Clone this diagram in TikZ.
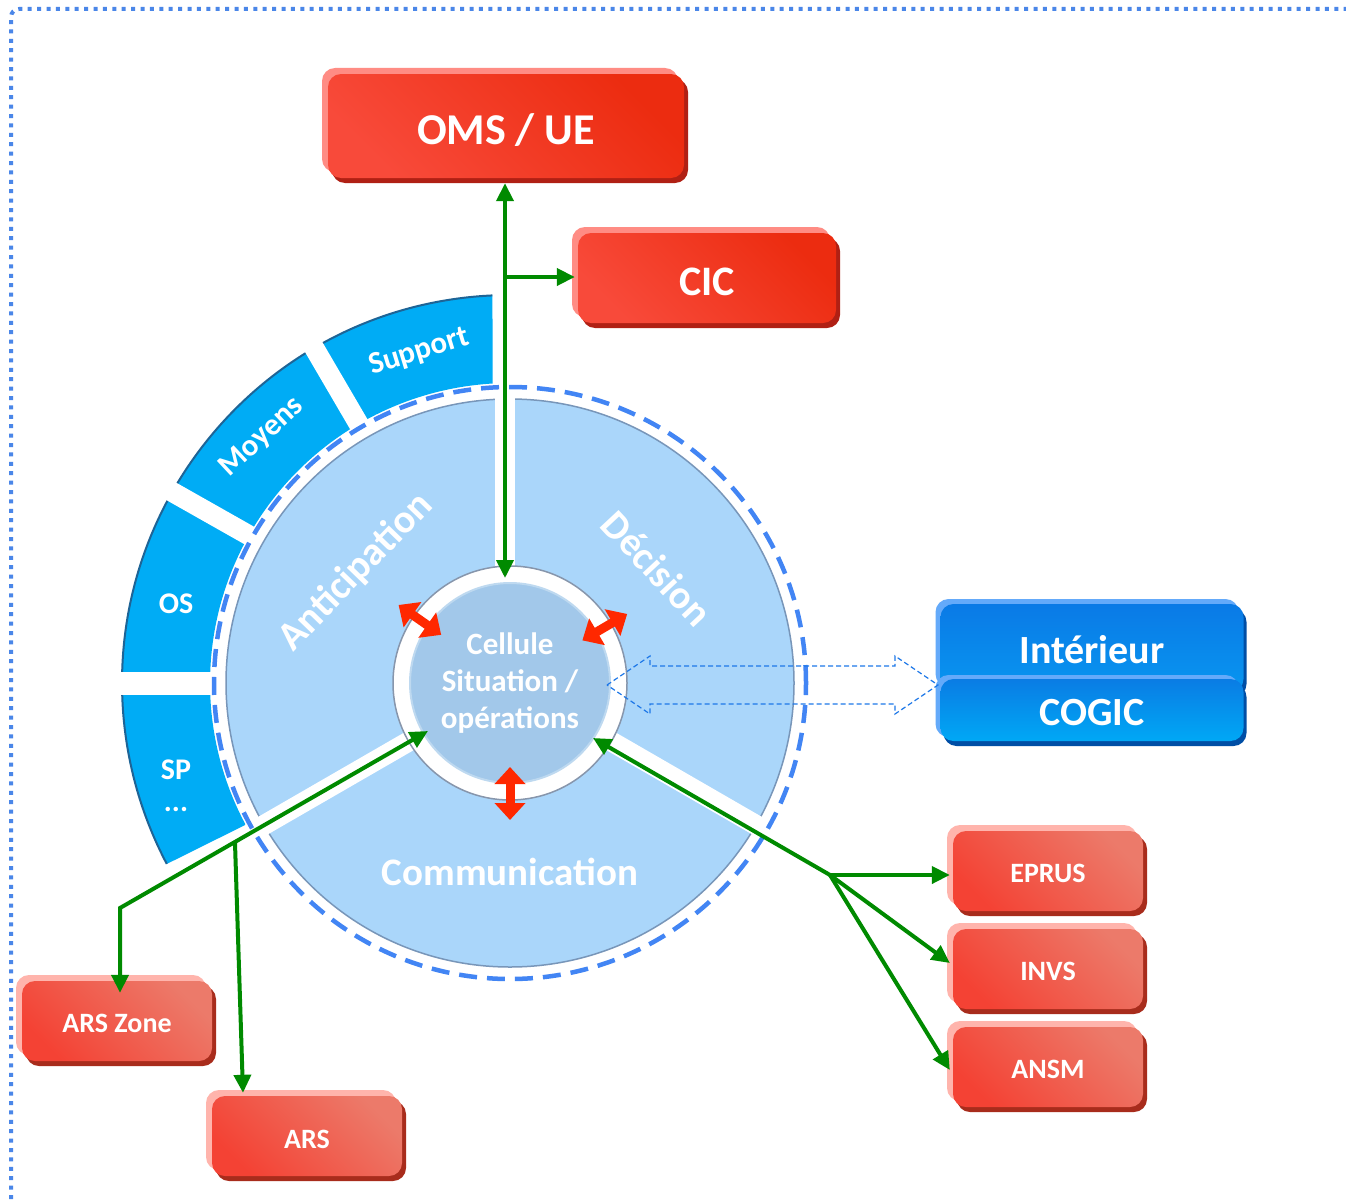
\documentclass[tikz,border=0pt]{standalone}
\usepackage{fontspec}
\setmainfont{Carlito}
\usetikzlibrary{arrows.meta,calc}
\definecolor{framec}{RGB}{74,134,232}
\definecolor{ringc}{RGB}{0,172,245}
\definecolor{ringedge}{RGB}{30,100,150}
\definecolor{diskc}{RGB}{170,214,250}
\definecolor{diskedge}{RGB}{120,150,185}
\definecolor{innerc}{RGB}{162,200,234}
\definecolor{ringgray}{RGB}{135,150,172}
\definecolor{dashc}{RGB}{66,133,244}
\definecolor{gcol}{RGB}{0,138,0}
\definecolor{rcol}{RGB}{255,40,0}
\definecolor{bluedash}{RGB}{30,120,232}
\definecolor{rTopA}{RGB}{236,44,16}
\definecolor{rBotA}{RGB}{248,74,58}
\definecolor{rLightA}{RGB}{255,140,132}
\definecolor{rShadowA}{RGB}{176,32,20}
\definecolor{rTopB}{RGB}{236,122,106}
\definecolor{rBotB}{RGB}{244,66,52}
\definecolor{rLightB}{RGB}{255,180,172}
\definecolor{rShadowB}{RGB}{168,44,28}
\definecolor{bTop}{RGB}{10,122,230}
\definecolor{bBot}{RGB}{8,150,240}
\definecolor{bTopC}{RGB}{10,124,228}
\definecolor{bBotC}{RGB}{0,168,245}
\definecolor{bLight}{RGB}{100,170,250}
\definecolor{bShadow}{RGB}{0,78,165}
\newcommand\fsz[1]{\fontsize{#1}{#1}\selectfont\bfseries}
\newcommand\lowr[2]{\raisebox{-#1}[\height][\depth]{#2}}
\begin{document}
\begin{tikzpicture}[x=1pt,y=1pt,
  greenline/.style={draw=gcol, line width=4pt},
  garr/.style={greenline, -{Triangle[length=18pt,width=17pt]}},
  redarr/.style={draw=rcol, line width=9pt, {Triangle[length=17pt,width=30pt]}-{Triangle[length=17pt,width=30pt]}},
  boxbase/.style={rounded corners=13pt, text=white, inner sep=0pt, align=center},
  redboxA/.style={boxbase,
    preaction={fill=rShadowA, transform canvas={shift={(4,-5)}}},
    preaction={fill=rLightA, transform canvas={shift={(-6,6)}}},
    top color=rTopA, bottom color=rBotA, shading angle=-45},
  redboxB/.style={boxbase,
    preaction={fill=rShadowB, transform canvas={shift={(4,-5)}}},
    preaction={fill=rLightB, transform canvas={shift={(-6,6)}}},
    top color=rTopB, bottom color=rBotB, shading angle=-45,
    minimum width=190pt, minimum height=80pt, font=\fsz{28}},
  blueboxA/.style={boxbase,
    preaction={fill=bShadow, transform canvas={shift={(3,-5)}}},
    preaction={fill=bLight, transform canvas={shift={(-5,5)}}},
    top color=bTop, bottom color=bBot},
  blueboxB/.style={boxbase,
    preaction={fill=bShadow, transform canvas={shift={(3,-5)}}},
    preaction={fill=bLight, transform canvas={shift={(-5,4)}}},
    top color=bTopC, bottom color=bBotC},
  lbl/.style={text=white, inner sep=0pt, align=center}
]
\useasboundingbox (0,0) rectangle (1346,-1199);
\fill[white] (0,0) rectangle (1346,-1199);
% dotted frame
\draw[framec, line width=4pt, dash pattern=on 4pt off 5.4pt, rounded corners=8pt]
  (11,-1199) -- (11,-9) -- (1346,-9);

\coordinate (c) at (510,-683);
\begin{scope}[shift={(510,-683)}]
  % outer ring
  \fill[ringc] (92.6:388) arc[start angle=92.6, end angle=207.8, radius=388]
     -- (208.2:300) arc[start angle=208.2, end angle=93.3, radius=300] -- cycle;
  \draw[ringedge, line width=2pt] (92.6:388) arc[start angle=92.6, end angle=207.8, radius=388];
  \draw[white, line width=20pt] (120.3:292) -- (120.3:400);
  \draw[white, line width=20pt] (150.5:292) -- (150.5:400);
  \draw[white, line width=23pt] (180:292) -- (180:400);
  % disk
  \fill[diskc, draw=diskedge, line width=1.5pt] (0,0) circle[radius=284];
  \draw[white, line width=20pt] (-5,0) -- (-5,300);
  \draw[white, line width=20pt] (0,0) -- (210:300);
  \draw[white, line width=20pt] (0,0) -- (330:300);
  \draw[dashc, line width=4.5pt, dash pattern=on 18pt off 10pt] (0,0) circle[radius=296];
  \fill[white, draw=ringgray, line width=1.5pt] (0,0) circle[radius=117];
\end{scope}
\node[circle, fill=innerc, draw=innerc!70!white, line width=2pt, minimum size=200pt,
      inner sep=0pt, text=white, align=center, font=\fontsize{31}{37}\selectfont\bfseries]
      (cell) at (c) {Cellule\\Situation /\\opérations};

% sector labels
\node[lbl, rotate=46, font=\fsz{40}] (antic) at (356,-572) {Anticipation};
\node[lbl, rotate=-47, font=\fsz{40}] (decis) at (657,-568) {Décision};
\node[lbl, font=\fsz{39}] (comm) at (510,-872) {Communication};
\node[lbl, rotate=17, font=\fsz{31}] (supp) at (419,-352) {Support};
\node[lbl, rotate=43, font=\fsz{31}] (moy) at (262,-437) {Moyens};
\node[lbl, font=\fsz{30}] (os) at (176,-604) {OS};
\node[lbl, font=\fontsize{30}{32}\selectfont\bfseries] (sp) at (176,-786) {SP\\...};

% red double arrows on the white ring
\draw[redarr] ($(c)+(145:84)$) -- ($(c)+(145:136)$);
\draw[redarr] ($(c)+(30.5:84)$) -- ($(c)+(30.5:136)$);
\draw[redarr] ($(c)+(270:84)$) -- ($(c)+(270:137)$);

% boxes
\node[redboxA, minimum width=356pt, minimum height=104pt, font=\fsz{44}] (oms) at (506,-126) {\lowr{4pt}{OMS / UE}};
\node[redboxA, minimum width=258pt, minimum height=90pt, font=\fsz{42}] (cic) at (707,-278) {\lowr{4pt}{CIC}};
\node[blueboxA, minimum width=303pt, minimum height=88pt, font=\fsz{40}] (int) at (1092,-648) {\lowr{2pt}{Intérieur}};
\node[blueboxB, minimum width=303pt, minimum height=62pt, font=\fsz{40}] (cogic) at (1092,-710) {\lowr{3pt}{COGIC}};
\node[redboxB] (eprus) at (1048,-871) {\lowr{2pt}{EPRUS}};
\node[redboxB] (invs) at (1048,-969) {\lowr{2pt}{INVS}};
\node[redboxB] (ansm) at (1048,-1067) {\lowr{2pt}{ANSM}};
\node[redboxB] (arsz) at (117,-1021) {\lowr{2pt}{ARS Zone}};
\node[redboxB] (ars) at (307,-1136) {\lowr{3pt}{ARS}};

% dashed double block arrow between cell and Intérieur / COGIC
\draw[bluedash, line width=1.2pt, dash pattern=on 5pt off 3pt]
  (607,-685) -- (650,-656) -- (650,-666) -- (895,-666) -- (895,-656) -- (938,-685)
  -- (895,-714) -- (895,-704) -- (650,-704) -- (650,-714) -- cycle;

% green connectors
\coordinate (tTop) at (505,-578);
\coordinate (jC) at (505,-277);
\draw[greenline, {Triangle[length=18pt,width=17pt]}-{Triangle[length=18pt,width=17pt]}]
  (tTop) -- ($(tTop |- oms.south)+(0,-5)$);
\draw[garr] (jC) -- ($(jC -| cic.west)+(-3,0)$);

\coordinate (tLL) at (428,-731);
\coordinate (jL) at (235,-843);
\coordinate (bL) at (120,-908);
\draw[greenline, {Triangle[length=18pt,width=17pt]}-{Triangle[length=18pt,width=17pt]}]
  (tLL) -- (bL) -- ($(bL |- arsz.north)+(0,-12)$);
\draw[garr] (jL) -- ($(ars.north)+(-64,3)$);

\coordinate (tLR) at (593,-738);
\coordinate (jR) at (830,-875);
\draw[greenline, {Triangle[length=18pt,width=17pt]}-] (tLR) -- (jR);
\draw[garr] (jR) -- ($(jR -| eprus.west)+(-3,0)$);
\draw[garr] (jR) -- ($(invs.west)+(-3,6)$);
\draw[garr] (jR) -- ($(ansm.west)+(-3,-3)$);
\end{tikzpicture}
\end{document}
